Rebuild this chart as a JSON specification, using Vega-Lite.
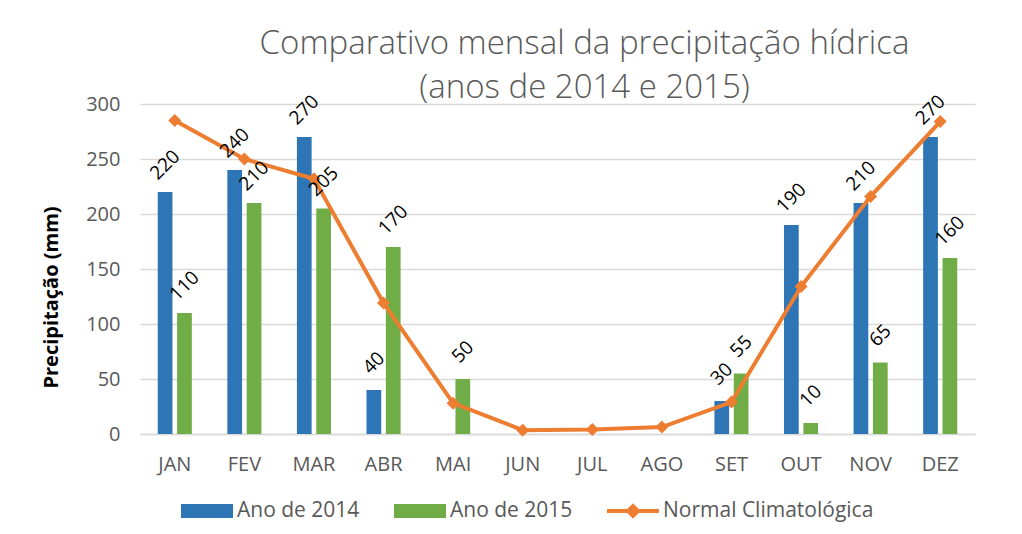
{
  "$schema": "https://vega.github.io/schema/vega-lite/v6.json",
  "width": 835,
  "height": 330,
  "autosize": {"type": "none"},
  "padding": {"left": 140, "top": 104, "right": 47, "bottom": 100},
  "background": "white",
  "config": {
    "view": {"stroke": null},
    "font": "Open Sans",
    "axis": {"labelFont": "Open Sans", "titleFont": "Open Sans"}
  },
  "title": {
    "text": ["Comparativo mensal da precipitação hídrica", "(anos de 2014 e 2015)"],
    "fontSize": 33,
    "fontWeight": 300,
    "color": "#595959",
    "lineHeight": 44,
    "anchor": "middle",
    "dx": 27,
    "offset": -13
  },
  "datasets": {
    "barras": [
      {"mes": "JAN", "serie": "Ano de 2014", "valor": 220},
      {"mes": "JAN", "serie": "Ano de 2015", "valor": 110},
      {"mes": "FEV", "serie": "Ano de 2014", "valor": 240},
      {"mes": "FEV", "serie": "Ano de 2015", "valor": 210},
      {"mes": "MAR", "serie": "Ano de 2014", "valor": 270},
      {"mes": "MAR", "serie": "Ano de 2015", "valor": 205},
      {"mes": "ABR", "serie": "Ano de 2014", "valor": 40},
      {"mes": "ABR", "serie": "Ano de 2015", "valor": 170},
      {"mes": "MAI", "serie": "Ano de 2015", "valor": 50},
      {"mes": "SET", "serie": "Ano de 2014", "valor": 30},
      {"mes": "SET", "serie": "Ano de 2015", "valor": 55},
      {"mes": "OUT", "serie": "Ano de 2014", "valor": 190},
      {"mes": "OUT", "serie": "Ano de 2015", "valor": 10},
      {"mes": "NOV", "serie": "Ano de 2014", "valor": 210},
      {"mes": "NOV", "serie": "Ano de 2015", "valor": 65},
      {"mes": "DEZ", "serie": "Ano de 2014", "valor": 270},
      {"mes": "DEZ", "serie": "Ano de 2015", "valor": 160}
    ],
    "normal": [
      {"mes": "JAN", "valor": 285},
      {"mes": "FEV", "valor": 250},
      {"mes": "MAR", "valor": 232},
      {"mes": "ABR", "valor": 119},
      {"mes": "MAI", "valor": 28},
      {"mes": "JUN", "valor": 3.5},
      {"mes": "JUL", "valor": 4},
      {"mes": "AGO", "valor": 6.3},
      {"mes": "SET", "valor": 29},
      {"mes": "OUT", "valor": 134},
      {"mes": "NOV", "valor": 216},
      {"mes": "DEZ", "valor": 284}
    ]
  },
  "layer": [
    {
      "data": {"name": "barras"},
      "mark": {"type": "bar"},
      "encoding": {
        "xOffset": {
          "field": "serie",
          "type": "nominal",
          "scale": {"domain": ["Ano de 2014", "Ano de 2015"], "paddingInner": 0.24, "paddingOuter": 0}
        },
        "color": {"field": "serie", "type": "nominal"}
      }
    },
    {
      "data": {"name": "normal"},
      "mark": {"type": "line", "strokeWidth": 4, "point": {"filled": true, "shape": "diamond", "size": 170}},
      "encoding": {
        "color": {"datum": "Normal Climatológica"}
      }
    },
    {
      "data": {"name": "barras"},
      "mark": {"type": "text", "angle": -45, "align": "center", "baseline": "middle", "fontSize": 19, "color": "#000000", "yOffset": -27, "font": "Open Sans"},
      "encoding": {
        "xOffset": {"field": "serie", "type": "nominal"},
        "text": {"field": "valor", "type": "quantitative"}
      }
    }
  ],
  "resolve": {"scale": {"color": "shared"}},
  "encoding": {
    "x": {
      "field": "mes",
      "type": "nominal",
      "sort": null,
      "scale": {"domain": ["JAN", "FEV", "MAR", "ABR", "MAI", "JUN", "JUL", "AGO", "SET", "OUT", "NOV", "DEZ"], "paddingInner": 0.51, "paddingOuter": 0.255},
      "axis": {
        "title": null,
        "labelAngle": 0,
        "labelFontSize": 20,
        "labelColor": "#595959",
        "labelPadding": 20,
        "ticks": false,
        "domainColor": "#d9d9d9",
        "domainWidth": 1.5,
        "grid": false
      }
    },
    "y": {
      "field": "valor",
      "type": "quantitative",
      "scale": {"domain": [0, 300], "nice": false},
      "axis": {
        "title": "Precipitação (mm)",
        "titleFontSize": 20,
        "titleFontWeight": "bold",
        "titleColor": "#000000",
        "titleAngle": -90,
        "titleAlign": "center",
        "titleBaseline": "middle",
        "titleX": -89,
        "titleY": 193,
        "values": [0, 50, 100, 150, 200, 250, 300],
        "labelFontSize": 20,
        "labelColor": "#595959",
        "labelPadding": 20,
        "ticks": false,
        "domain": false,
        "gridColor": "#d9d9d9",
        "gridWidth": 1.5
      }
    },
    "color": {
      "type": "nominal",
      "scale": {"domain": ["Ano de 2014", "Ano de 2015", "Normal Climatológica"], "range": ["#2E75B6", "#70AD47", "#ED7D31"]},
      "legend": {
        "title": null,
        "orient": "none",
        "direction": "horizontal",
        "legendX": 41,
        "legendY": 381,
        "labelFontSize": 21,
        "labelColor": "#595959",
        "labelOffset": 4,
        "labelLimit": 400,
        "columnPadding": 34,
        "symbolSize": 2704,
        "encode": {
          "symbols": {
            "update": {
              "shape": {"signal": "datum.value === 'Normal Climatológica' ? 'M-1,-0.08L-0.22,-0.08L0,-0.3L0.22,-0.08L1,-0.08L1,0.08L0.22,0.08L0,0.3L-0.22,0.08L-1,0.08Z' : 'M-1,-0.27L1,-0.27L1,0.27L-1,0.27Z'"},
              "fill": {"scale": "color", "field": "value"},
              "stroke": {"value": "transparent"},
              "strokeWidth": {"value": 0},
              "opacity": {"value": 1},
              "fillOpacity": {"value": 1}
            }
          }
        }
      }
    }
  }
}
